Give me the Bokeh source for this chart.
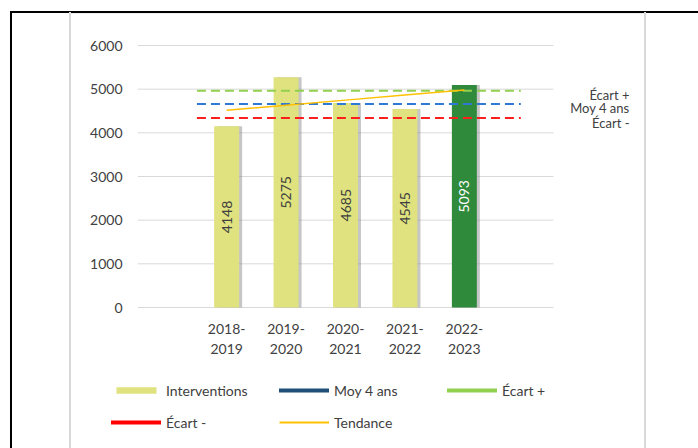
import math
from bokeh.plotting import figure
from bokeh.layouts import column
from bokeh.models import ColumnDataSource, FixedTicker, Legend, LegendItem
from bokeh.core.properties import value
from bokeh.embed import file_html
from bokeh.resources import INLINE

# ---------------- data ----------------
periods = ["2018-2019", "2019-2020", "2020-2021", "2021-2022", "2022-2023"]
period_labels = ["2018-\n2019", "2019-\n2020", "2020-\n2021", "2021-\n2022", "2022-\n2023"]
interventions = [4148, 5275, 4685, 4545, 5093]
tendance = [4517, 4633, 4749, 4865, 4981]
moy_4_ans = 4663
ecart_plus = 4963
ecart_moins = 4340
y_ticks = [0, 1000, 2000, 3000, 4000, 5000, 6000]

FONT = "Lato"
TXT = "#404040"
BAR = "#DFE27E"
BAR_LAST = "#2F8A3C"

# category slots: one empty slot before and after, bars at slot centres
n_slots = 7
xpos = [1.5 + i for i in range(len(periods))]

W = 698
H_MAIN, H_LEG = 365, 83
frame_left, frame_right = 137, 640
frame_top, frame_bottom = 30, 309
slot_px = 416 / 7.0
x_end = (frame_right - frame_left) / slot_px
u_per_px = 6000 / 262.0
y_start = -(frame_bottom - 307) * u_per_px
y_end = 6000 + (45 - frame_top) * u_per_px


def page_lines(top_lines):
    imgs = ["linear-gradient(#000,#000)", "linear-gradient(#d9d9d9,#d9d9d9)",
            "linear-gradient(#d9d9d9,#d9d9d9)"]
    sizes = ["2px 100%", "2px 100%", "2px 100%"]
    pos = ["10px %dpx" % (11 if top_lines else 0), "69px %dpx" % (12 if top_lines else 0),
           "644px %dpx" % (12 if top_lines else 0)]
    if top_lines:
        imgs += ["linear-gradient(#000,#000)", "linear-gradient(#eeeeee,#eeeeee)"]
        sizes += ["100% 2px", "575px 1px"]
        pos += ["10px 11px", "70px 13px"]
    return {"background-color": "white", "background-image": ", ".join(imgs),
            "background-size": ", ".join(sizes), "background-position": ", ".join(pos),
            "background-repeat": "no-repeat"}


p = figure(width=W, height=H_MAIN, output_backend="svg", toolbar_location=None,
           x_range=(0, x_end), y_range=(y_start, y_end),
           min_border_left=frame_left, min_border_right=W - frame_right,
           min_border_top=frame_top, min_border_bottom=H_MAIN - frame_bottom)
p.outline_line_color = None
p.background_fill_color = "white"
p.border_fill_alpha = 0
p.frame_align = False
p.styles = page_lines(True)

# axes
p.yaxis.ticker = FixedTicker(ticks=y_ticks)
p.yaxis.axis_line_color = None
p.yaxis.major_tick_line_color = None
p.yaxis.minor_tick_line_color = None
p.yaxis.major_label_standoff = 9
p.yaxis.major_label_text_font = FONT
p.yaxis.major_label_text_font_size = "14px"
p.yaxis.major_label_text_color = TXT

p.xaxis.ticker = FixedTicker(ticks=xpos)
p.xaxis.major_label_overrides = {x: lab for x, lab in zip(xpos, period_labels)}
p.xaxis.axis_line_color = None
p.xaxis.major_tick_line_color = None
p.xaxis.minor_tick_line_color = None
p.xaxis.major_label_standoff = 4
p.xaxis.major_label_text_font = FONT
p.xaxis.major_label_text_font_size = "14px"
p.xaxis.major_label_text_color = TXT
p.xaxis.major_label_text_align = "center"

# horizontal gridlines only across the category slots
p.grid.visible = False
p.segment(x0=[0] * len(y_ticks), x1=[n_slots] * len(y_ticks), y0=y_ticks, y1=y_ticks,
          line_color="#D9D9D9", line_width=1)

# bars with a soft shadow
colors = [BAR] * (len(periods) - 1) + [BAR_LAST]
label_colors = [TXT] * (len(periods) - 1) + ["white"]
src = ColumnDataSource(dict(x=xpos, top=interventions, color=colors,
                            half=[v / 2 for v in interventions],
                            lab=[str(v) for v in interventions],
                            lcol=label_colors))
shadow_dx = 3.0 / slot_px
p.vbar(x=[x + shadow_dx for x in xpos], top=interventions, width=0.42,
       fill_color="#808080", fill_alpha=0.45, line_color=None)
p.vbar(x="x", top="top", width=0.42, fill_color="color", line_color=None, source=src)
p.text(x="x", y="half", text="lab", angle=math.pi / 2, text_align="center",
       text_baseline="middle", text_color="lcol", text_font=value(FONT),
       text_font_size="14px", source=src)

# reference lines
line_x = [xpos[0] - 0.5, xpos[-1] + 0.95]
p.line(line_x, [ecart_plus] * 2, line_color="#92D050", line_width=2, line_dash="9 5")
p.line(line_x, [moy_4_ans] * 2, line_color="#2E78D6", line_width=2, line_dash="9 5")
p.line(line_x, [ecart_moins] * 2, line_color="#FF1E1E", line_width=2, line_dash="9 5")
p.line(xpos, tendance, line_color="#FFC000", line_width=1.5)

# labels at the right
lab_x = (629 - frame_left) / slot_px
p.text(x=[lab_x] * 3, y=[ecart_plus, moy_4_ans, ecart_moins],
       text=["Écart +", "Moy 4 ans", "Écart -"], y_offset=[4, 4, 5],
       text_align="right", text_baseline="middle", text_color=TXT,
       text_font=value(FONT), text_font_size="13px")

# ---------------- legend strip ----------------
q = figure(width=W, height=H_LEG, output_backend="svg", toolbar_location=None,
           x_axis_location=None, y_axis_location=None, x_range=(0, 1), y_range=(0, 1),
           min_border=0, min_border_left=0, min_border_right=0,
           min_border_top=0, min_border_bottom=0)
q.outline_line_color = None
q.grid.visible = False
q.background_fill_alpha = 0
q.border_fill_alpha = 0
q.frame_align = False
q.styles = page_lines(False)

# legend carriers: one point each, placed outside the visible range
off = dict(x=[-5], y=[-5])
r_int = q.vbar(x=[-5], top=[-5], width=0.4, fill_color=BAR, line_color=None)
r_moy = q.line(x=[-5, -4], y=[-5, -5], line_color="#1F4E79", line_width=4, line_cap="round")
r_ep = q.line(x=[-5, -4], y=[-5, -5], line_color="#92D050", line_width=4, line_cap="round")
r_em = q.line(x=[-5, -4], y=[-5, -5], line_color="#FF0000", line_width=4, line_cap="round")
r_t = q.line(x=[-5, -4], y=[-5, -5], line_color="#FFC000", line_width=2)
# items listed column by column (legend fills columns first)
legend = Legend(items=[LegendItem(label="Interventions", renderers=[r_int]),
                       LegendItem(label="Écart -", renderers=[r_em]),
                       LegendItem(label="Moy 4 ans", renderers=[r_moy]),
                       LegendItem(label="Tendance", renderers=[r_t]),
                       LegendItem(label="Écart +", renderers=[r_ep])],
                ncols=3, location=(111, 16),
                glyph_width=50, glyph_height=8, label_standoff=5,
                label_width=101, label_height=20, spacing=12, padding=0, margin=0,
                border_line_color=None, background_fill_alpha=0,
                label_text_font=FONT, label_text_font_size="14px",
                label_text_color=TXT)
q.add_layout(legend, "center")

layout = column(p, q, spacing=0)
open("out.html", "w").write(file_html(layout, INLINE))
